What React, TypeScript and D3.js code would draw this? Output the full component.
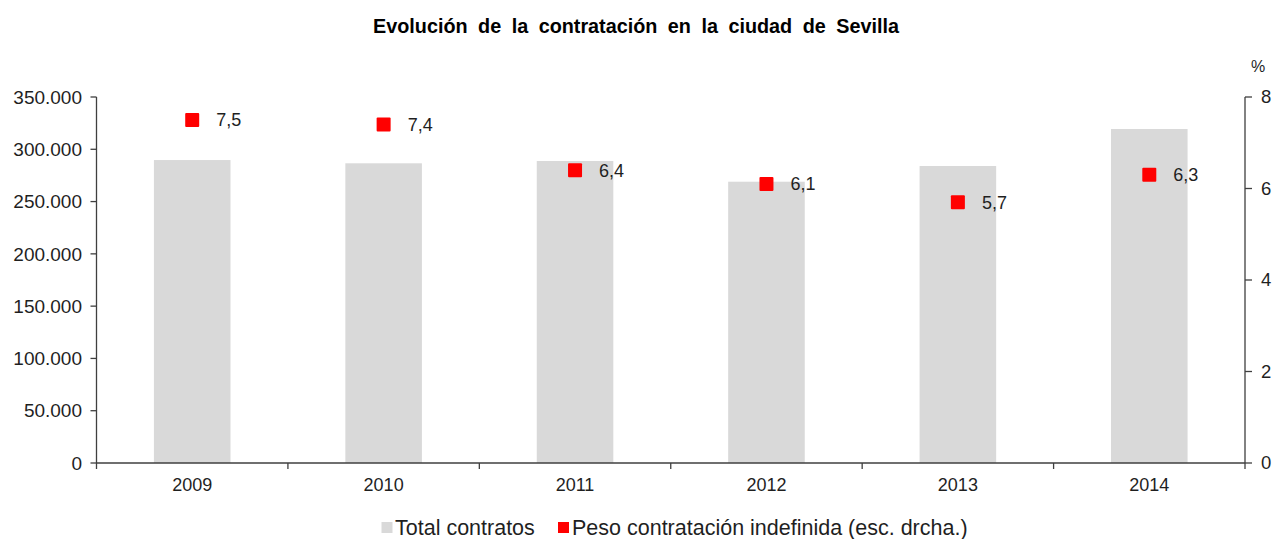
import React from "react";
import * as d3 from "d3";

const years = ["2009", "2010", "2011", "2012", "2013", "2014"];
const totalContratos = [289700, 286600, 288800, 269000, 284000, 319400];
const pesoIndefinida = [7.5, 7.4, 6.4, 6.1, 5.7, 6.3];
const leftTicks = [0, 50000, 100000, 150000, 200000, 250000, 300000, 350000];
const rightTicks = [0, 2, 4, 6, 8];

const W = 1272;
const H = 539;
const X0 = 96.5;
const X1 = 1245;
const Y0 = 463;
const Y1 = 97;
const FONT = "'Liberation Sans', Arial, sans-serif";
const TXT = "#1f1f1f";
const AX = "#3f3f3f";

const fmtThousands = (v: number) =>
  d3.format(",")(v).replace(/,/g, ".");
const fmtComma = (v: number) => d3.format(".1f")(v).replace(".", ",");

export default function App() {
  const x = d3
    .scaleBand<string>()
    .domain(years)
    .range([X0, X1])
    .paddingInner(0.6)
    .paddingOuter(0.3);
  const yL = d3.scaleLinear().domain([0, 350000]).range([Y0, Y1]);
  const yR = d3.scaleLinear().domain([0, 8]).range([Y0, Y1]);
  const step = x.step();
  const outer = (X1 - X0 - step * years.length) / 2;
  const boundaries = d3.range(years.length + 1).map((i) => X0 + outer + i * step);
  const ms = 14;

  return (
    <svg
      width={W}
      height={H}
      style={{ position: "absolute", left: 0, top: 0, background: "#fff" }}
      fontFamily={FONT}
    >
      <rect width={W} height={H} fill="#fff" />
      <text
        x={636}
        y={33}
        textAnchor="middle"
        fontSize={19.8}
        fontWeight="bold"
        fill="#000"
        wordSpacing={5}
      >
        Evolución de la contratación en la ciudad de Sevilla
      </text>

      {/* bars */}
      {years.map((yr, i) => (
        <rect
          key={yr}
          x={x(yr)}
          y={yL(totalContratos[i])}
          width={x.bandwidth()}
          height={Y0 - yL(totalContratos[i])}
          fill="#d9d9d9"
        />
      ))}

      {/* left axis */}
      <line x1={X0} x2={X0} y1={Y1} y2={Y0} stroke={AX} strokeWidth={1.3} />
      {leftTicks.map((t) => (
        <g key={t}>
          <line x1={X0 - 6} x2={X0} y1={yL(t)} y2={yL(t)} stroke={AX} strokeWidth={1.3} />
          <text
            x={82}
            y={yL(t)}
            dy="0.35em"
            textAnchor="end"
            fontSize={19}
            fill={TXT}
          >
            {fmtThousands(t)}
          </text>
        </g>
      ))}

      {/* right axis */}
      <line x1={X1} x2={X1} y1={Y1} y2={Y0} stroke={AX} strokeWidth={1.3} />
      {rightTicks.map((t) => (
        <g key={t}>
          <line x1={X1} x2={X1 + 7} y1={yR(t)} y2={yR(t)} stroke={AX} strokeWidth={1.3} />
          <text x={1261} y={yR(t)} dy="0.35em" textAnchor="start" fontSize={18.5} fill={TXT}>
            {t}
          </text>
        </g>
      ))}
      <text x={1258} y={66} dy="0.35em" textAnchor="middle" fontSize={16} fill={TXT}>
        %
      </text>

      {/* bottom axis */}
      <line x1={X0} x2={X1} y1={Y0} y2={Y0} stroke={AX} strokeWidth={1.3} />
      {boundaries.map((b, i) => (
        <line key={i} x1={b} x2={b} y1={Y0} y2={Y0 + 6} stroke={AX} strokeWidth={1.3} />
      ))}
      {years.map((yr) => (
        <text
          key={yr}
          x={(x(yr) as number) + x.bandwidth() / 2}
          y={491}
          textAnchor="middle"
          fontSize={18}
          fill={TXT}
        >
          {yr}
        </text>
      ))}

      {/* markers */}
      {years.map((yr, i) => {
        const cx = (x(yr) as number) + x.bandwidth() / 2;
        const cy = yR(pesoIndefinida[i]);
        return (
          <g key={yr}>
            <rect x={cx - ms / 2} y={cy - ms / 2} width={ms} height={ms} fill="#ff0000" rx={1} />
            <text x={cx + 24} y={cy} dy="0.35em" fontSize={18} fill={TXT}>
              {fmtComma(pesoIndefinida[i])}
            </text>
          </g>
        );
      })}

      {/* legend */}
      <rect x={381.5} y={522} width={11} height={11} fill="#d9d9d9" />
      <text x={395} y={527.5} dy="0.35em" fontSize={21.5} fill={TXT}>
        Total contratos
      </text>
      <rect x={558} y={522} width={11} height={11} fill="#ff0000" />
      <text x={572} y={527.5} dy="0.35em" fontSize={21.5} fill={TXT}>
        Peso contratación indefinida (esc. drcha.)
      </text>
    </svg>
  );
}
